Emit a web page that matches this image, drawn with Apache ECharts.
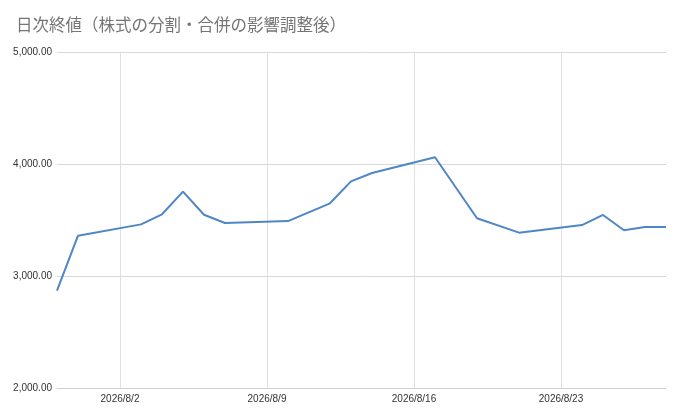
<!DOCTYPE html>
<html>
<head>
<meta charset="utf-8">
<script src="https://cdn.jsdelivr.net/npm/echarts@6/dist/echarts.min.js"></script>
<style>
  html, body { margin: 0; padding: 0; background: #fff; }
  #chart { width: 680px; height: 411px; }
</style>
</head>
<body>
<div id="chart"></div>
<script>
// 日次終値データ
var dates = ['2026-07-30', '2026-07-31', '2026-08-03', '2026-08-04', '2026-08-05', '2026-08-06', '2026-08-07',
  '2026-08-10', '2026-08-12', '2026-08-13', '2026-08-14', '2026-08-17', '2026-08-19',
  '2026-08-21', '2026-08-24', '2026-08-25', '2026-08-26', '2026-08-27', '2026-08-28'];
var closes = [2869, 3360, 3461, 3551, 3753, 3547, 3473,
  3490, 3649, 3845, 3920, 4060, 3516,
  3387, 3455, 3545, 3408, 3437, 3437];
var tickDates = ['2026-08-02', '2026-08-09', '2026-08-16', '2026-08-23'];
var yTicks = [2000, 3000, 4000, 5000];

function toTime(s) {
  var p = s.split('-');
  return new Date(+p[0], +p[1] - 1, +p[2]).getTime();
}
function fmtDate(v) {
  var d = new Date(v);
  return d.getFullYear() + '/' + (d.getMonth() + 1) + '/' + d.getDate();
}

var seriesData = dates.map(function(d, i) { return [toTime(d), closes[i]]; });
var tickLines = tickDates.map(function(d) { return { xAxis: toTime(d) }; });

var myChart = echarts.init(document.getElementById('chart'));

var option = {
  animation: false,
  title: {
    text: '日次終値（株式の分割・合併の影響調整後）',
    left: 11,
    top: 11,
    textStyle: {
      fontFamily: 'Noto Sans CJK JP',
      fontSize: 16.5,
      fontWeight: 'normal',
      color: '#757575'
    }
  },
  grid: { left: 57, right: 14, top: 52, bottom: 23 },
  xAxis: {
    type: 'time',
    min: toTime(dates[0]),
    max: toTime(dates[dates.length - 1]),
    axisLine: { show: true, lineStyle: { color: '#d0d0d0' } },
    axisTick: { show: false },
    splitLine: { show: false },
    axisLabel: { show: false }
  },
  yAxis: {
    type: 'value',
    min: yTicks[0],
    max: yTicks[yTicks.length - 1],
    interval: 1000,
    axisLine: { show: false },
    axisTick: { show: false },
    splitLine: { lineStyle: { color: '#d9d9d9' } },
    axisLabel: {
      margin: 5,
      fontFamily: 'Liberation Sans',
      fontSize: 10,
      color: '#333',
      formatter: function(v) {
        return v.toLocaleString('en-US', { minimumFractionDigits: 2, maximumFractionDigits: 2 });
      }
    }
  },
  series: [{
    // 縦のグリッド線と日付ラベル
    type: 'line',
    data: [],
    z: 1,
    markLine: {
      silent: true,
      z: 1,
      symbol: ['none', 'none'],
      lineStyle: { color: '#e0e0e0', type: 'solid', width: 1 },
      label: {
        position: 'start',
        distance: 6,
        fontFamily: 'Liberation Sans',
        fontSize: 10,
        color: '#333',
        formatter: function(p) { return fmtDate(p.value); }
      },
      data: tickLines
    }
  }, {
    type: 'line',
    z: 3,
    data: seriesData,
    showSymbol: false,
    lineStyle: { color: '#4f86c6', width: 2 },
    itemStyle: { color: '#4f86c6' }
  }]
};
myChart.setOption(option);
</script>
</body>
</html>
